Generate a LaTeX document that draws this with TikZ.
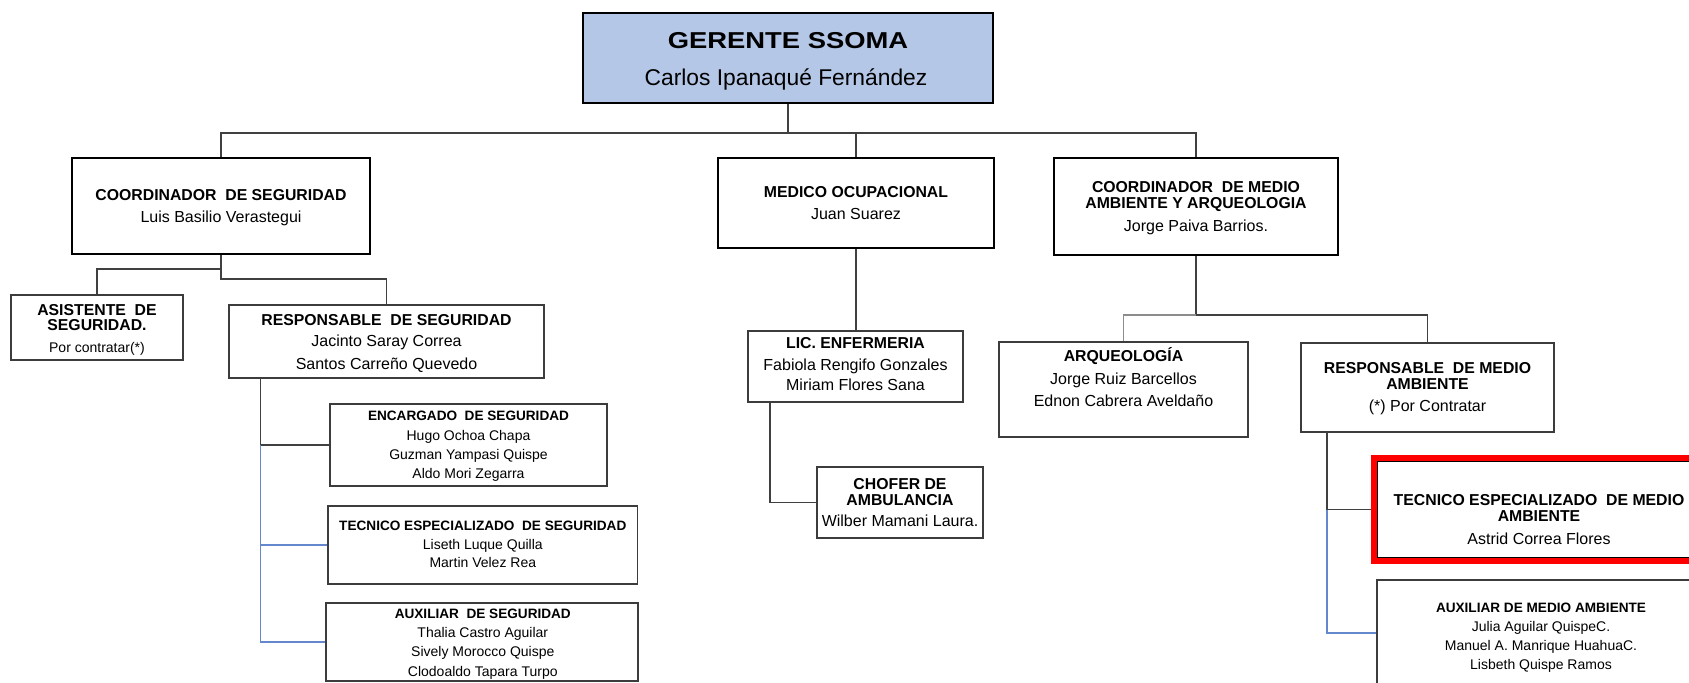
\documentclass[tikz,border=0pt]{standalone}
\usepackage{fontspec}
\usepackage{graphicx}
\setmainfont{Liberation Sans}
\usetikzlibrary{fit}
\definecolor{gerfill}{RGB}{180,199,231}
\definecolor{conn}{RGB}{64,64,64}
\definecolor{bconn}{RGB}{100,135,205}
\definecolor{boxline}{RGB}{60,60,60}
\definecolor{arqline}{RGB}{140,140,140}
\tikzset{
  thinbox/.style={rectangle, inner sep=0pt, draw=boxline, line width=0.7pt, fill=white},
  thickbox/.style={rectangle, inner sep=0pt, draw=black, line width=1.35pt, fill=white},
  conline/.style={draw=conn, line width=0.6pt},
  blueline/.style={draw=bconn, line width=0.7pt},
  hdr/.style={anchor=base, inner sep=0pt, font=\fontsize{7.9}{9}\selectfont\bfseries},
  nm/.style={anchor=base, inner sep=0pt, font=\fontsize{8}{9}\selectfont},
  shdr/.style={anchor=base, inner sep=0pt, font=\fontsize{6.8}{8}\selectfont\bfseries},
  snm/.style={anchor=base, inner sep=0pt, font=\fontsize{7}{8}\selectfont},
}
\begin{document}
\begin{tikzpicture}[x=0.5pt,y=-0.5pt]
\useasboundingbox (0,0) rectangle (1689,682);
\clip (0,0) rectangle (1689,682);
\fill[white] (0,0) rectangle (1689,682);

% ---------- boxes ----------
\node[thickbox, fill=gerfill, fit={(583,13) (993,103)}] (ger) {};
\node[thickbox, fit={(72,158) (370,254)}] (cs) {};
\node[thickbox, fit={(718,158) (994,248)}] (med) {};
\node[thickbox, fit={(1054,158) (1338,255)}] (cma) {};

\node[thinbox, fit={(11,295) (183,360)}] (asis) {};
\node[thinbox, fit={(229,305) (544,378)}] (rs) {};
\node[thinbox, fit={(330,404) (607,486)}] (enc) {};
\node[thinbox, fit={(328,506) (637.5,584)}] (tes) {};
\node[thinbox, fit={(326,603) (638,681)}] (aus) {};
\node[thinbox, fit={(748,331) (963,402)}] (lic) {};
\node[thinbox, fit={(817,467) (983,538)}] (cho) {};
\node[thinbox, fit={(999,342) (1248,437)}] (arq) {};
\node[thinbox, fit={(1301,343) (1554,432)}] (rma) {};
\node[rectangle, inner sep=0pt, fill=red, fit={(1371,455) (1700,564)}] (tmared) {};
\node[thinbox, draw=black, line width=0.5pt, fit={(1377,461) (1700,557)}] (tma) {};
\node[thinbox, fit={(1377,580) (1700,686)}] (ama) {};

% ---------- connectors ----------
\coordinate (bus) at (788,133);
\draw[conline] (ger.south) -- (bus);
\draw[conline] (cs.north) |- (bus) -| (cma.north);
\draw[conline] (bus -| med.north) -- (med.north);

\coordinate (csa) at (221,269);
\coordinate (csb) at (221,279);
\draw[conline] (cs.south) -- (csb) -| (rs.north);
\draw[conline] (csa) -| (asis.north);

\coordinate (rsv) at (260.7,378);
\draw[conline] (rsv) |- (enc.west);
\draw[blueline] (rsv |- enc.west) |- (tes.west);
\draw[blueline] (rsv |- tes.west) |- (aus.west);

\draw[conline] (med.south) -- (med.south |- lic.north);
\coordinate (licv) at (770,402);
\draw[conline] (licv) |- (cho.west);

\coordinate (cmj) at (1196,315);
\draw[conline] (cma.south) -- (cmj) -| (rma.north);
\draw[draw=arqline, line width=0.6pt] (cmj) -| (arq.north);

\coordinate (rmav) at (1327,432);
\draw[conline] (rmav) |- (tmared.west);
\draw[blueline] (rmav |- tmared.west) |- (ama.west);

% ---------- texts ----------
\node[hdr, font=\fontsize{11.5}{13}\selectfont\bfseries] (gerT) at (788,48.3) {\scalebox{1.19}[1]{GERENTE SSOMA}};
\node[nm, font=\fontsize{11.4}{13}\selectfont] (gerN) at (786,85) {Carlos Ipanaqué Fernández};

\node[hdr] (csT) at (221,200) {COORDINADOR~ DE SEGURIDAD};
\node[nm] (csN) at (221,222.5) {Luis Basilio Verastegui};

\node[hdr] (asT1) at (97,315) {ASISTENTE~ DE};
\node[hdr] (asT2) at (97,330) {SEGURIDAD.};
\node[snm] (asN) at (97,352) {Por contratar(*)};

\node[hdr] (rsT) at (386.5,325) {RESPONSABLE~ DE SEGURIDAD};
\node[nm] (rsN1) at (386.5,346.7) {Jacinto Saray Correa};
\node[nm] (rsN2) at (386.5,369) {Santos Carreño Quevedo};

\node[shdr] (encT) at (468.5,420.7) {ENCARGADO~ DE SEGURIDAD};
\node[snm] (encN1) at (468.5,440) {Hugo Ochoa Chapa};
\node[snm] (encN2) at (468.5,459.3) {Guzman Yampasi Quispe};
\node[snm] (encN3) at (468.5,478.3) {Aldo Mori Zegarra};

\node[shdr] (tesT) at (482.8,530) {TECNICO ESPECIALIZADO~ DE SEGURIDAD};
\node[snm] (tesN1) at (482.8,549) {Liseth Luque Quilla};
\node[snm] (tesN2) at (482.8,567.7) {Martin Velez Rea};

\node[shdr] (ausT) at (482.8,618.7) {AUXILIAR~ DE SEGURIDAD};
\node[snm] (ausN1) at (482.8,637.7) {Thalia Castro Aguilar};
\node[snm] (ausN2) at (482.8,656.7) {Sively Morocco Quispe};
\node[snm] (ausN3) at (482.8,676) {Clodoaldo Tapara Turpo};

\node[hdr] (medT) at (856,197.3) {MEDICO OCUPACIONAL};
\node[nm] (medN) at (856,219.3) {Juan Suarez};

\node[hdr] (licT) at (855.5,348.3) {LIC. ENFERMERIA};
\node[nm] (licN1) at (855.5,370.7) {Fabiola Rengifo Gonzales};
\node[nm] (licN2) at (855.5,390) {Miriam Flores Sana};

\node[hdr] (choT1) at (900,489) {CHOFER DE};
\node[hdr] (choT2) at (900,505) {AMBULANCIA};
\node[nm] (choN) at (900,526.7) {Wilber Mamani Laura.};

\node[hdr] (cmaT1) at (1196,192.7) {COORDINADOR~ DE MEDIO};
\node[hdr] (cmaT2) at (1196,208.3) {AMBIENTE Y ARQUEOLOGIA};
\node[nm] (cmaN) at (1196,231.7) {Jorge Paiva Barrios.};

\node[hdr] (arqT) at (1123.5,361.7) {ARQUEOLOGÍA};
\node[nm] (arqN1) at (1123.5,384) {Jorge Ruiz Barcellos};
\node[nm] (arqN2) at (1123.5,406) {Ednon Cabrera Aveldaño};

\node[hdr] (rmaT1) at (1427.5,373.3) {RESPONSABLE~ DE MEDIO};
\node[hdr] (rmaT2) at (1427.5,389.3) {AMBIENTE};
\node[nm] (rmaN) at (1427.5,411) {(*) Por Contratar};

\node[hdr] (tmaT1) at (1539,505) {TECNICO ESPECIALIZADO~ DE MEDIO};
\node[hdr] (tmaT2) at (1539,521.7) {AMBIENTE};
\node[nm] (tmaN) at (1539,544) {Astrid Correa Flores};

\node[shdr] (amaT) at (1541,612.3) {AUXILIAR DE MEDIO AMBIENTE};
\node[snm] (amaN1) at (1541,631.7) {Julia Aguilar QuispeC.};
\node[snm] (amaN2) at (1541,650.7) {Manuel A. Manrique HuahuaC.};
\node[snm] (amaN3) at (1541,669.3) {Lisbeth Quispe Ramos};
\end{tikzpicture}
\end{document}
